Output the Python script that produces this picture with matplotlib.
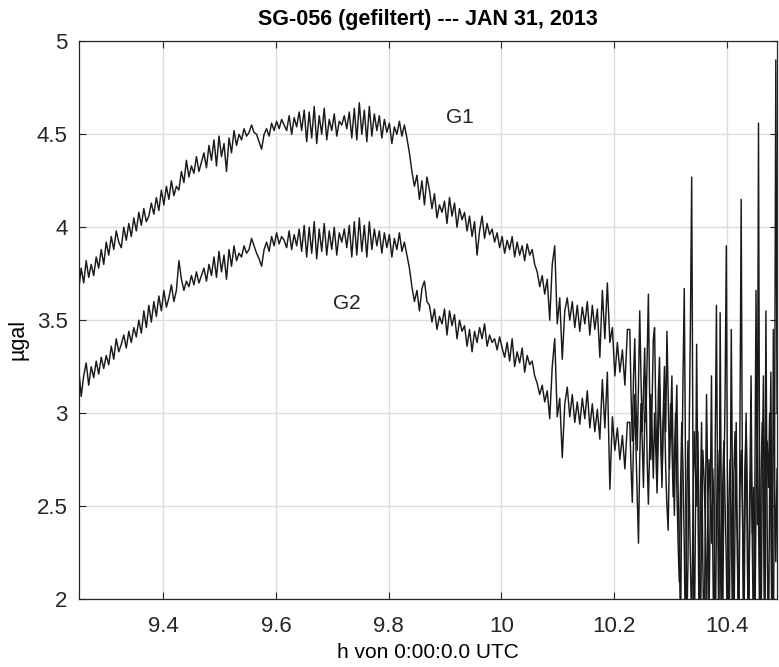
import numpy as np
import matplotlib
matplotlib.use('Agg')
import matplotlib.pyplot as plt

plt.rcParams['font.family'] = ['Liberation Sans', 'DejaVu Sans']

# G1 (µgal), calm part 9.25 .. ~10.22 h
g1_calm = [
    3.66, 3.78, 3.70, 3.82, 3.73, 3.80, 3.74, 3.84, 3.78, 3.88,
    3.80, 3.92, 3.85, 3.95, 3.88, 3.98, 3.92, 3.89, 4.00, 3.93,
    4.02, 3.95, 4.05, 3.98, 4.08, 4.01, 4.10, 4.03, 4.06, 4.13,
    4.07, 4.16, 4.09, 4.20, 4.12, 4.22, 4.15, 4.25, 4.17, 4.22,
    4.20, 4.30, 4.24, 4.36, 4.27, 4.33, 4.29, 4.38, 4.30, 4.35,
    4.40, 4.32, 4.44, 4.36, 4.47, 4.33, 4.49, 4.38, 4.45, 4.30,
    4.48, 4.40, 4.52, 4.44, 4.50, 4.47, 4.53, 4.49, 4.51, 4.55,
    4.51, 4.50, 4.46, 4.42, 4.50, 4.53, 4.49, 4.56, 4.52, 4.57,
    4.53, 4.58, 4.55, 4.52, 4.60, 4.50, 4.59, 4.54, 4.62, 4.52,
    4.63, 4.46, 4.62, 4.48, 4.65, 4.45, 4.60, 4.50, 4.64, 4.47,
    4.58, 4.52, 4.61, 4.49, 4.57, 4.55, 4.60, 4.53, 4.62, 4.48,
    4.64, 4.47, 4.67, 4.50, 4.63, 4.46, 4.65, 4.49, 4.61, 4.52,
    4.60, 4.48, 4.58, 4.51, 4.56, 4.45, 4.54, 4.50, 4.57, 4.49,
    4.55, 4.48, 4.40, 4.30, 4.22, 4.28, 4.15, 4.25, 4.12, 4.27,
    4.20, 4.10, 4.18, 4.05, 4.12, 4.08, 4.14, 4.02, 4.16, 4.06,
    4.13, 4.00, 4.10, 4.04, 4.08, 3.98, 4.06, 3.95, 4.03, 3.85,
    3.98, 4.06, 3.94, 4.02, 3.96, 3.99, 3.92, 3.97, 3.89, 3.95,
    3.86, 3.93, 3.88, 3.95, 3.84, 3.92, 3.85, 3.90, 3.82, 3.91,
    3.85, 3.88, 3.80, 3.76, 3.68, 3.74, 3.64, 3.72, 3.50, 3.80,
    3.90, 3.48, 3.62, 3.29, 3.55, 3.62, 3.50, 3.60, 3.46, 3.58,
    3.44, 3.57, 3.48, 3.60, 3.42, 3.58, 3.45, 3.56, 3.30, 3.66,
    3.40, 3.70, 3.38, 3.46, 3.20, 3.38, 3.22, 3.34, 3.15, 3.45,
]

# G1, noisy part ~10.23 .. 10.49 h (denser samples)
g1_noisy = [
    3.45, 3.10, 2.85, 3.20, 3.40, 3.05, 2.80, 3.15, 3.55, 3.20,
    2.90, 3.10, 3.35, 2.95, 3.30, 3.64, 3.10, 2.75, 3.05, 3.40,
    3.46, 3.00, 2.70, 3.10, 3.30, 2.85, 2.60, 3.00, 3.25, 2.90,
    3.44, 3.10, 2.70, 2.95, 3.20, 2.75, 2.45, 2.90, 3.15, 2.60,
    2.30, 1.80, 2.60, 3.20, 3.67, 2.70, 1.80, 2.20, 2.90, 3.50,
    4.27, 2.80, 1.60, 2.40, 3.37, 2.60, 1.80, 2.50, 2.95, 2.20,
    1.70, 2.40, 3.10, 2.60, 1.90, 2.50, 3.20, 2.30, 1.60, 2.80,
    3.58, 2.50, 1.70, 3.54, 2.40, 1.80, 2.60, 3.10, 3.90, 2.40,
    1.60, 2.30, 3.45, 2.60, 1.70, 2.40, 2.95, 2.20, 1.70, 2.90,
    4.15, 2.60, 1.60, 2.40, 3.00, 2.20, 1.70, 2.60, 3.20, 2.30,
    1.70, 2.50, 3.66, 2.40, 4.56, 2.30, 1.60, 2.70, 3.20, 2.00,
    3.55, 2.40, 1.60, 2.60, 3.22, 2.10, 1.70, 2.80, 4.90, 3.00,
]

# G2 (µgal), calm part
g2_calm = [
    3.24, 3.09, 3.20, 3.27, 3.15, 3.25, 3.19, 3.28, 3.21, 3.30,
    3.24, 3.31, 3.26, 3.36, 3.29, 3.40, 3.33, 3.37, 3.42, 3.35,
    3.44, 3.38, 3.46, 3.41, 3.50, 3.43, 3.55, 3.46, 3.58, 3.49,
    3.60, 3.52, 3.63, 3.55, 3.66, 3.57, 3.62, 3.69, 3.60, 3.66,
    3.82, 3.72, 3.66, 3.71, 3.68, 3.74, 3.69, 3.76, 3.70, 3.74,
    3.78, 3.71, 3.80, 3.74, 3.84, 3.73, 3.87, 3.76, 3.85, 3.72,
    3.88, 3.79, 3.90, 3.82, 3.86, 3.84, 3.90, 3.86, 3.88, 3.94,
    3.90, 3.86, 3.83, 3.79, 3.88, 3.92, 3.87, 3.95, 3.90, 3.97,
    3.91, 3.95, 3.93, 3.89, 3.98, 3.88, 3.96, 3.90, 3.99, 3.87,
    4.01, 3.84, 4.00, 3.86, 4.03, 3.83, 3.99, 3.87, 4.02, 3.85,
    3.98, 3.88, 4.00, 3.85, 3.97, 3.92, 3.99, 3.89, 4.01, 3.84,
    4.03, 3.85, 4.05, 3.87, 4.01, 3.84, 4.03, 3.88, 3.99, 3.90,
    3.98, 3.86, 3.97, 3.89, 3.96, 3.84, 3.94, 3.88, 3.97, 3.87,
    3.92, 3.85, 3.78, 3.68, 3.60, 3.66, 3.55, 3.67, 3.71, 3.60,
    3.58, 3.49, 3.56, 3.45, 3.52, 3.48, 3.56, 3.42, 3.55, 3.47,
    3.53, 3.40, 3.50, 3.44, 3.47, 3.36, 3.45, 3.33, 3.44, 3.38,
    3.46, 3.40, 3.48, 3.36, 3.42, 3.38, 3.40, 3.34, 3.41, 3.35,
    3.30, 3.38, 3.28, 3.40, 3.25, 3.33, 3.27, 3.35, 3.22, 3.31,
    3.26, 3.28, 3.20, 3.16, 3.10, 3.15, 3.06, 3.12, 2.97, 3.25,
    3.40, 2.98, 3.08, 2.76, 3.05, 3.14, 2.98, 3.10, 2.95, 3.06,
    2.94, 3.08, 2.97, 3.12, 2.92, 3.05, 2.90, 3.02, 2.86, 3.18,
    2.92, 3.22, 2.59, 2.98, 2.80, 2.92, 2.75, 2.88, 2.70, 2.95,
]

# G2, noisy part
g2_noisy = [
    2.95, 2.70, 2.52, 2.85, 3.10, 2.80, 2.55, 2.30, 2.75, 3.05,
    2.85, 2.60, 2.95, 3.20, 2.75, 2.51, 2.80, 3.10, 2.90, 2.65,
    3.00, 2.80, 2.57, 2.85, 3.15, 2.90, 2.65, 2.95, 3.05, 2.70,
    2.50, 2.37, 2.80, 3.05, 2.85, 2.55, 2.75, 3.00, 2.60, 2.30,
    2.09, 2.60, 2.95, 2.70, 2.30, 1.70, 2.50, 2.85, 2.60, 2.20,
    1.80, 2.45, 2.90, 2.70, 2.50, 2.90, 2.35, 1.70, 2.40, 2.80,
    2.65, 2.40, 1.80, 2.50, 2.75, 2.55, 2.30, 2.70, 2.50, 1.70,
    2.40, 2.80, 2.55, 2.35, 1.80, 2.60, 2.85, 2.50, 2.20, 1.70,
    2.50, 2.75, 2.45, 1.80, 2.65, 2.90, 2.55, 2.30, 1.70, 2.60,
    2.80, 2.50, 2.00, 2.70, 2.95, 2.55, 1.80, 2.50, 2.75, 2.35,
    2.60, 1.70, 2.55, 2.85, 2.45, 1.80, 2.65, 2.95, 2.50, 1.70,
    2.55, 2.85, 2.60, 3.00, 2.40, 1.70, 3.45, 2.65, 2.20, 2.70,
]

t_start, t_split_a, t_split_b, t_end = 9.25, 10.2235, 10.2278, 10.489
x_ticks = [9.4, 9.6, 9.8, 10, 10.2, 10.4]
x_tick_labels = ['9.4', '9.6', '9.8', '10', '10.2', '10.4']
y_ticks = [2, 2.5, 3, 3.5, 4, 4.5, 5]
y_tick_labels = ['2', '2.5', '3', '3.5', '4', '4.5', '5']

t = np.concatenate([np.linspace(t_start, t_split_a, len(g1_calm)),
                    np.linspace(t_split_b, t_end, len(g1_noisy))])
g1 = np.array(g1_calm + g1_noisy)
g2 = np.array(g2_calm + g2_noisy)

fig = plt.figure(figsize=(7.79, 6.67), dpi=100)
ax = fig.add_axes([0.101, 0.102, 0.8965, 0.836])

ax.plot(t, g1, color='#1a1a1a', linewidth=1.05)
ax.plot(t, g2, color='#1a1a1a', linewidth=1.05)

ax.text(9.926, 4.589, 'G1', fontsize=15, ha='center', va='center', color='#222222')
ax.text(9.726, 3.591, 'G2', fontsize=15, ha='center', va='center', color='#222222')

ax.set_xlim(t_start, t_end)
ax.set_ylim(2, 5)
ax.set_xticks(x_ticks)
ax.set_xticklabels(x_tick_labels)
ax.set_yticks(y_ticks)
ax.set_yticklabels(y_tick_labels)
ax.tick_params(direction='in', length=5, width=0.8, top=True, right=True,
               labelsize=16, colors='#262626')
ax.tick_params(axis='x', pad=12)
ax.tick_params(axis='y', pad=8)
ax.grid(True, color='#dcdcdc', linewidth=1.0)
ax.set_axisbelow(True)
for s in ax.spines.values():
    s.set_color('#262626')
    s.set_linewidth(0.9)

ax.set_title('SG-056 (gefiltert) --- JAN 31, 2013', fontsize=15.5, fontweight='bold', pad=12)
ax.set_xlabel('h von 0:00:0.0 UTC', fontsize=15)
ax.xaxis.set_label_coords(0.5, -0.079)
ax.set_ylabel('µgal', fontsize=15.5)
ax.yaxis.set_label_coords(-0.072, 0.466)

fig.savefig('out.png', dpi=100)
